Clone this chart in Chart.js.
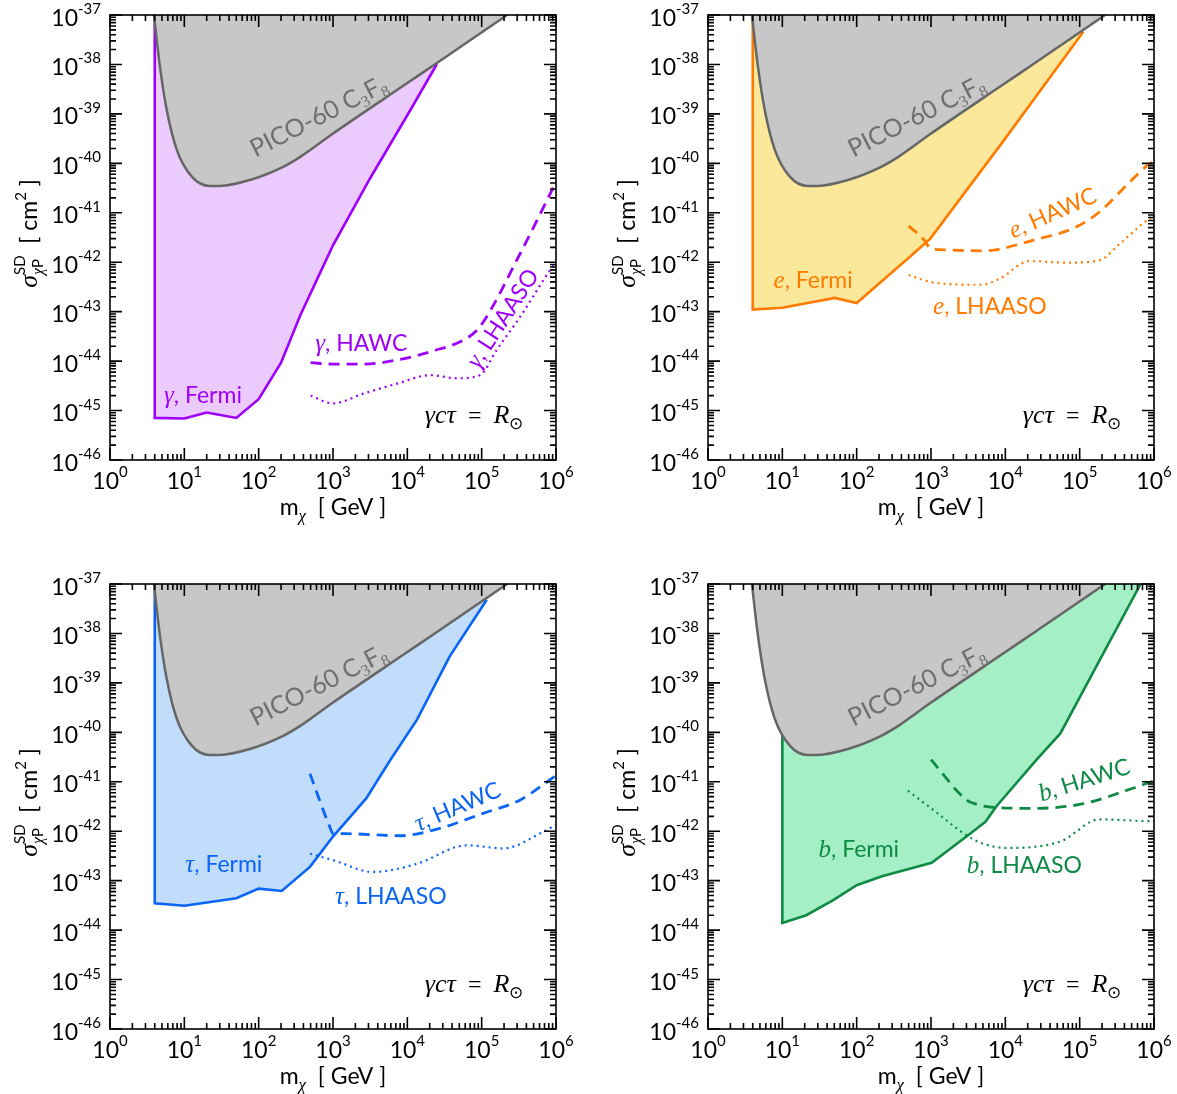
<!DOCTYPE html>
<html>
<head>
<meta charset="utf-8">
<script src="https://cdn.jsdelivr.net/npm/chart.js@4.4.1/dist/chart.umd.min.js"></script>
<style>
  body { margin: 0; background: #fff; }
  #wrap { position: relative; width: 1177px; height: 1094px; }
  canvas { position: absolute; }
</style>
</head>
<body>
<div id="wrap">
  <canvas id="gamma" width="588" height="547" style="left:0;top:0"></canvas>
  <canvas id="elec" width="589" height="547" style="left:588px;top:0"></canvas>
  <canvas id="tau" width="588" height="547" style="left:0;top:547px"></canvas>
  <canvas id="bquark" width="589" height="547" style="left:588px;top:547px"></canvas>
</div>
<script>
// axes
var massDecades = [1, 10, 100, 1e3, 1e4, 1e5, 1e6];
var massExponents = ['0', '1', '2', '3', '4', '5', '6'];
var sigmaDecades = [1e-46, 1e-45, 1e-44, 1e-43, 1e-42, 1e-41, 1e-40, 1e-39, 1e-38, 1e-37];
var sigmaExponents = ['-46', '-45', '-44', '-43', '-42', '-41', '-40', '-39', '-38', '-37'];
var minorSteps = [2, 3, 4, 5, 6, 7, 8, 9];

// PICO-60 C3F8 (same in every panel)
var picoMass  = [3.9, 4.7, 5.8, 7.9, 12.6, 22, 30, 76, 214, 363, 1000, 1e4, 2.5e4, 2.2e5];
var picoSigma = [1e-37, 8.9e-39, 1.2e-39, 1.9e-40, 5.4e-41, 3.5e-41, 3.5e-41, 4.6e-41, 8.5e-41, 1.35e-40, 4.0e-40, 4.2e-39, 1.07e-38, 1e-37];

// gamma
var gammaFermiMass   = [4, 4, 10, 20, 50, 100, 200, 363, 630, 1000, 3160, 1.1e4, 2.5e4];
var gammaFermiSigma  = [1e-37, 7.1e-46, 6.9e-46, 9.1e-46, 7.1e-46, 1.7e-45, 9.3e-45, 8.5e-44, 5e-43, 2.2e-42, 5e-41, 1.2e-39, 1.02e-38];
var gammaHawcMass    = [500, 1000, 2570, 7240, 2.04e4, 6.3e4, 9.5e4, 3.3e5, 1e6];
var gammaHawcSigma   = [9.3e-45, 8.7e-45, 8.7e-45, 1.05e-44, 1.55e-44, 2.9e-44, 5e-44, 1.5e-42, 4.2e-41];
var gammaLhaasoMass  = [500, 1000, 2570, 7240, 2.04e4, 4.6e4, 9.5e4, 1.6e5, 3.3e5, 8.3e5, 1e6];
var gammaLhaasoSigma = [2.0e-45, 1.4e-45, 2.2e-45, 3.5e-45, 5.2e-45, 4.5e-45, 5.2e-45, 1.7e-44, 7.9e-44, 6.9e-43, 1e-42];

// electron
var elecFermiMass   = [4, 4, 10, 51, 100, 525, 980, 1e4, 1.12e5];
var elecFermiSigma  = [1e-37, 1.1e-43, 1.2e-43, 1.9e-43, 1.5e-43, 1.3e-42, 3.0e-42, 3.2e-40, 4.6e-38];
var elecHawcMass    = [500, 813, 980, 1300, 5000, 2.4e4, 9.1e4, 1.86e5, 4.8e5, 8.3e5, 1e6];
var elecHawcSigma   = [5.4e-42, 2.8e-42, 1.9e-42, 1.8e-42, 1.7e-42, 2.8e-42, 5.2e-42, 1.05e-41, 4.3e-41, 9.3e-41, 1.1e-40];
var elecLhaasoMass  = [500, 1070, 4800, 8500, 2.1e4, 6.8e4, 1.86e5, 3.5e5, 8.9e5, 1e6];
var elecLhaasoSigma = [5.5e-43, 3.9e-43, 3.5e-43, 4.7e-43, 1.05e-42, 9.8e-43, 1.1e-42, 2.4e-42, 7.8e-42, 8.5e-42];

// tau
var tauFermiMass   = [4, 4, 10, 50, 100, 204, 490, 1000, 2800, 5900, 1.35e4, 3.7e4, 1.17e5];
var tauFermiSigma  = [1e-37, 3.5e-44, 3.1e-44, 4.4e-44, 6.9e-44, 6.2e-44, 1.9e-43, 7.8e-43, 4.6e-42, 2.75e-41, 1.8e-40, 3.4e-39, 4.8e-38];
var tauHawcMass    = [490, 910, 1000, 1500, 7900, 2.24e4, 1.05e5, 3.3e5, 8.3e5, 1e6];
var tauHawcSigma   = [1.45e-41, 1.2e-42, 8.9e-43, 8.9e-43, 8.1e-43, 1.05e-42, 2.3e-42, 4.3e-42, 1.1e-41, 1.35e-41];
var tauLhaasoMass  = [490, 1000, 3470, 1.35e4, 6.3e4, 1.95e5, 6.8e5, 1e6];
var tauLhaasoSigma = [3.5e-43, 2.6e-43, 1.5e-43, 2.2e-43, 5.2e-43, 4.5e-43, 9.8e-43, 1.35e-42];

// b quark
var bFermiMass   = [10, 10, 21, 49, 100, 219, 1020, 3000, 5400, 7600, 2.6e4, 5.5e4, 1.86e5, 6.6e5];
var bFermiSigma  = [1e-37, 1.4e-44, 2.0e-44, 4.1e-44, 8.1e-44, 1.23e-43, 2.3e-43, 7.8e-43, 1.55e-42, 3.2e-42, 2.75e-41, 9.5e-41, 2.9e-39, 1e-37];
var bHawcMass    = [1000, 3000, 4100, 7600, 2.4e4, 1.12e5, 5.2e5, 1e6];
var bHawcSigma   = [2.8e-41, 4.3e-42, 3.5e-42, 3.0e-42, 2.9e-42, 3.6e-42, 7.4e-42, 1.05e-41];
var bLhaasoMass  = [490, 1070, 3000, 5000, 1.05e4, 5.5e4, 1.86e5, 8.9e5, 1e6];
var bLhaasoSigma = [6.6e-42, 2.7e-42, 8.3e-43, 5.6e-43, 4.6e-43, 6.2e-43, 1.74e-42, 1.6e-42, 1.6e-42];

// label anchors [mass, sigma, angle]
var picoLabelAt  = [710, 6.6e-40, -27];
var decayLabelAt = [7.9e4, 8e-46, 0];

function fontOf(face, size) {
  if (face === 'math') return 'italic ' + size + 'px "Liberation Serif"';
  if (face === 'rm') return size + 'px "Liberation Serif"';
  return size + 'px Lato';
}

// parts: [text, face, size, dy, backRef]
function layoutRich(ctx, parts, draw, x0) {
  var cx = x0, starts = [];
  parts.forEach(function (p, i) {
    ctx.font = fontOf(p[1], p[2]);
    var pw = ctx.measureText(p[0]).width;
    var px = p[4] ? starts[i - p[4]] : cx;
    starts.push(px);
    if (draw) ctx.fillText(p[0], px, p[3] || 0);
    cx = Math.max(cx, px + pw);
  });
  return cx - x0;
}

function drawRich(ctx, parts, x, y, align, angle, color, base) {
  ctx.save();
  ctx.translate(x, y);
  if (angle) ctx.rotate(angle * Math.PI / 180);
  ctx.translate(0, base || 0);
  ctx.fillStyle = color;
  ctx.textBaseline = 'alphabetic';
  ctx.textAlign = 'left';
  var w = layoutRich(ctx, parts, false, 0);
  var start = align === 'center' ? -w / 2 : (align === 'right' ? -w : 0);
  layoutRich(ctx, parts, true, start);
  ctx.restore();
}

function pts(xs, ys) {
  return xs.map(function (x, i) { return { x: x, y: ys[i] }; });
}

function makePanel(p) {
  var decor = {
    id: 'decor',
    afterDraw: function (chart) {
      var ctx = chart.ctx, a = chart.chartArea;
      var xs = chart.scales.x, ys = chart.scales.y;
      ctx.save();
      ctx.strokeStyle = '#000';
      ctx.lineWidth = 1.6;
      ctx.strokeRect(a.left, a.top, a.right - a.left, a.bottom - a.top);
      ctx.beginPath();
      massDecades.forEach(function (d, i) {
        var vals = [[d, 12]];
        if (i < massDecades.length - 1) minorSteps.forEach(function (s) { vals.push([d * s, 6]); });
        vals.forEach(function (v) {
          var x = xs.getPixelForValue(v[0]);
          ctx.moveTo(x, a.bottom); ctx.lineTo(x, a.bottom - v[1]);
          ctx.moveTo(x, a.top); ctx.lineTo(x, a.top + v[1]);
        });
      });
      sigmaDecades.forEach(function (d, i) {
        var vals = [[d, 12]];
        if (i < sigmaDecades.length - 1) minorSteps.forEach(function (s) { vals.push([d * s, 6]); });
        vals.forEach(function (v) {
          var y = ys.getPixelForValue(v[0]);
          ctx.moveTo(a.left, y); ctx.lineTo(a.left + v[1], y);
          ctx.moveTo(a.right, y); ctx.lineTo(a.right - v[1], y);
        });
      });
      ctx.stroke();
      ctx.restore();

      // tick labels
      massDecades.forEach(function (d, i) {
        drawRich(ctx, [['10', 'sans', 23, 0], [massExponents[i], 'sans', 15, -12]],
          xs.getPixelForValue(d), a.bottom + 29, 'center', 0, '#000');
      });
      sigmaDecades.forEach(function (d, i) {
        drawRich(ctx, [['10', 'sans', 23, 0], [sigmaExponents[i], 'sans', 15, -11.5]],
          a.left - 9, ys.getPixelForValue(d) + 10.5, 'right', 0, '#000');
      });

      // axis titles
      drawRich(ctx, [['m', 'sans', 23, 0], ['χ', 'math', 17, 6], ['  [ GeV ]', 'sans', 23, 0]],
        (a.left + a.right) / 2, a.bottom + 55, 'center', 0, '#000');
      drawRich(ctx, [['σ', 'math', 26, 0], ['χ', 'math', 16, 6], ['P', 'sans', 15, 6], ['SD', 'sans', 15, -12, 2],
        ['  [ cm', 'sans', 23, 0], ['2', 'sans', 15, -11], [' ]', 'sans', 23, 0]],
        a.left - 73, (a.top + a.bottom) / 2 - 4, 'center', -90, '#000');

      // annotations
      drawRich(ctx, [['PICO-60 C', 'sans', 25, 0], ['3', 'rm', 16, 5], ['F', 'sans', 25, 0], ['8', 'rm', 16, 5]],
        xs.getPixelForValue(picoLabelAt[0]), ys.getPixelForValue(picoLabelAt[1]), 'center', picoLabelAt[2], '#6f6f6f', 1);
      drawRich(ctx, [['γcτ', 'math', 26, 0], ['  =  ', 'rm', 24, 0], ['R', 'math', 26, 0], ['⊙', 'rm', 17, 6]],
        xs.getPixelForValue(decayLabelAt[0]), ys.getPixelForValue(decayLabelAt[1]), 'center', 0, '#000', 8);
      p.labels.forEach(function (l) {
        drawRich(ctx, [[p.sym, 'math', 25, 0], [', ' + l[0], 'sans', 23, 0]],
          xs.getPixelForValue(l[1]), ys.getPixelForValue(l[2]), 'center', l[3], p.line, 8);
      });
    }
  };

  return new Chart(document.getElementById(p.id), {
    type: 'line',
    data: {
      datasets: [
        { data: pts(picoMass, picoSigma), borderColor: '#666666', borderWidth: 2.5, backgroundColor: '#c7c7c7',
          fill: 'end', cubicInterpolationMode: 'monotone', order: 2 },
        { data: pts(p.fermi[0], p.fermi[1]), borderColor: p.line, borderWidth: 2.6, backgroundColor: p.fill,
          fill: 'end', tension: 0, order: 3 },
        { data: pts(p.hawc[0], p.hawc[1]), borderColor: p.line, borderWidth: 2.8, borderDash: [11, 7],
          fill: false, cubicInterpolationMode: 'monotone', order: 1 },
        { data: pts(p.lhaaso[0], p.lhaaso[1]), borderColor: p.line, borderWidth: 2.2, borderDash: [2, 4],
          fill: false, cubicInterpolationMode: 'monotone', order: 0 }
      ]
    },
    options: {
      responsive: false,
      animation: false,
      layout: { padding: p.pad },
      elements: { point: { radius: 0, hoverRadius: 0 } },
      plugins: { legend: { display: false }, tooltip: { enabled: false } },
      events: [],
      scales: {
        x: { type: 'logarithmic', min: 1, max: 1e6, display: false,
             afterBuildTicks: function (axis) { axis.ticks = massDecades.map(function (v) { return { value: v }; }); } },
        y: { type: 'logarithmic', min: 1e-46, max: 1e-37, display: false,
             afterBuildTicks: function (axis) { axis.ticks = sigmaDecades.map(function (v) { return { value: v }; }); } }
      }
    },
    plugins: [decor]
  });
}

makePanel({
  id: 'gamma', sym: 'γ', line: '#9e00fb', fill: '#ebcbfd',
  fermi: [gammaFermiMass, gammaFermiSigma], hawc: [gammaHawcMass, gammaHawcSigma], lhaaso: [gammaLhaasoMass, gammaLhaasoSigma],
  pad: { left: 110, top: 15, right: 32, bottom: 87 },
  labels: [['Fermi', 17.8, 2.1e-45, 0], ['HAWC', 2400, 2.3e-44, 0], ['LHAASO', 1.9e5, 7.4e-44, -57]]
});
makePanel({
  id: 'elec', sym: 'e', line: '#ff7b00', fill: '#fbe89b',
  fermi: [elecFermiMass, elecFermiSigma], hawc: [elecHawcMass, elecHawcSigma], lhaaso: [elecLhaasoMass, elecLhaasoSigma],
  pad: { left: 120, top: 15, right: 23, bottom: 87 },
  labels: [['Fermi', 26, 4.4e-43, 0], ['HAWC', 4.3e4, 1.0e-41, -23.7], ['LHAASO', 6200, 1.3e-43, 0]]
});
makePanel({
  id: 'tau', sym: 'τ', line: '#0a64f5', fill: '#c2dcfb',
  fermi: [tauFermiMass, tauFermiSigma], hawc: [tauHawcMass, tauHawcSigma], lhaaso: [tauLhaasoMass, tauLhaasoSigma],
  pad: { left: 110, top: 37, right: 32, bottom: 65 },
  labels: [['Fermi', 34, 2.2e-43, 0], ['HAWC', 4.7e4, 3.2e-42, -23], ['LHAASO', 6000, 4.9e-44, 0]]
});
makePanel({
  id: 'bquark', sym: 'b', line: '#0f8a44', fill: '#a4efc6',
  fermi: [bFermiMass, bFermiSigma], hawc: [bHawcMass, bHawcSigma], lhaaso: [bLhaasoMass, bLhaasoSigma],
  pad: { left: 120, top: 37, right: 23, bottom: 65 },
  labels: [['Fermi', 107, 4.4e-43, 0], ['HAWC', 1.15e5, 1.1e-41, -17.5], ['LHAASO', 1.8e4, 2.1e-43, 0]]
});
</script>
</body>
</html>
